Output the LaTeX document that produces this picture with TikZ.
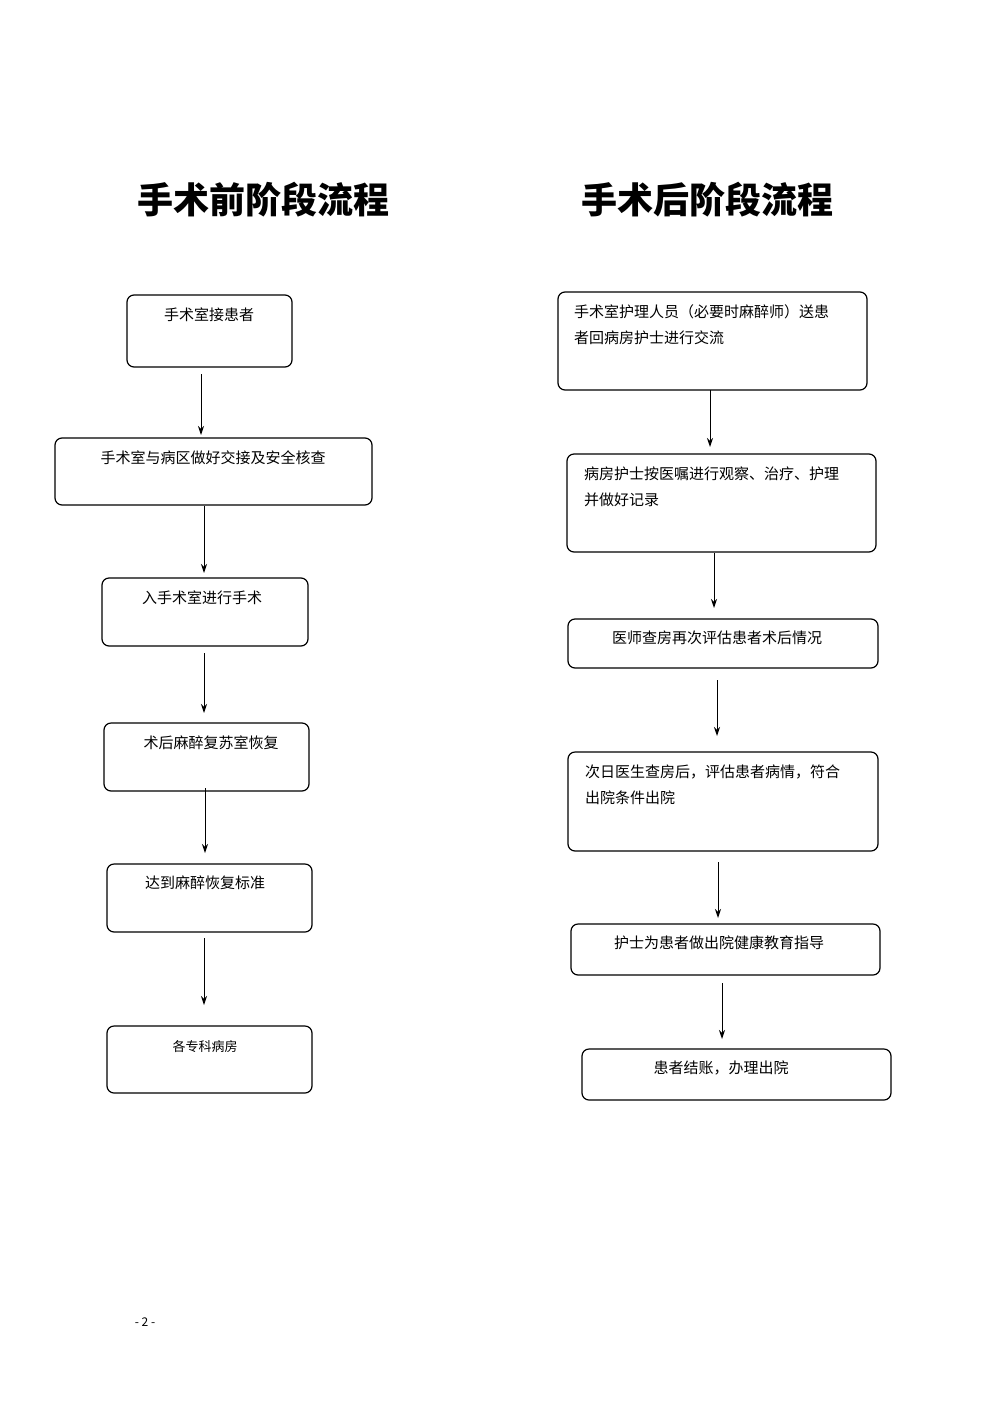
\documentclass[tikz,border=0pt]{standalone}
\usepackage{fontspec}
\newfontfamily\cjk{Noto Sans CJK SC}
\usetikzlibrary{arrows.meta}
\begin{document}
\begin{tikzpicture}[x=1pt,y=-1pt,
  box/.style={draw,line width=1.2pt,rounded corners=7pt},
  txt/.style={font=\cjk\fontsize{15}{26}\selectfont,inner sep=0pt,anchor=north},
  ltxt/.style={font=\cjk\fontsize{15}{26}\selectfont,inner sep=0pt,anchor=north west,align=left},
  arr/.style={-{Stealth[length=9pt,width=6pt]},line width=1pt},
  ttl/.style={font=\cjk\bfseries\fontsize{36}{40}\selectfont}]
\useasboundingbox (0,0) rectangle (1000,1414);
\node[ttl] (t1) at (263,200) {手术前阶段流程};
\node[ttl] (t2) at (707,200) {手术后阶段流程};
% left
\draw[box] (127,295) rectangle (292,367); \node[txt] (l1) at (209,308) {手术室接患者};
\draw[box] (55,438) rectangle (372,505); \node[txt] (l2) at (213,451) {手术室与病区做好交接及安全核查};
\draw[box] (102,578) rectangle (308,646); \node[txt] (l3) at (202,591) {入手术室进行手术};
\draw[box] (104,723) rectangle (309,791); \node[txt] (l4) at (211,736) {术后麻醉复苏室恢复};
\draw[box] (107,864) rectangle (312,932); \node[txt] (l5) at (205,876) {达到麻醉恢复标准};
\draw[box] (107,1026) rectangle (312,1093); \node[txt,font=\cjk\fontsize{13}{20}\selectfont] (l6) at (205,1040) {各专科病房};
\coordinate (a1) at (201,374); \coordinate (b1) at (201,435);
\coordinate (a2) at (204,506); \coordinate (b2) at (204,573);
\coordinate (a3) at (204,653); \coordinate (b3) at (204,713);
\coordinate (a4) at (205,788); \coordinate (b4) at (205,853);
\coordinate (a5) at (204,938); \coordinate (b5) at (204,1005);
\foreach \i in {1,...,5} \draw[arr] (a\i) -- (b\i);
% right
\draw[box] (558,292) rectangle (867,390); \node[ltxt] (r1) at (574,304) {手术室护理人员（必要时麻醉师）送患\\者回病房护士进行交流};
\draw[box] (567,454) rectangle (876,552); \node[ltxt] (r2) at (584,467) {病房护士按医嘱进行观察、治疗、护理\\并做好记录};
\draw[box] (568,619) rectangle (878,668); \node[txt] (r3) at (717,631) {医师查房再次评估患者术后情况};
\draw[box] (568,752) rectangle (878,851); \node[ltxt] (r4) at (585,765) {次日医生查房后，评估患者病情，符合\\出院条件出院};
\draw[box] (571,924) rectangle (880,975); \node[txt] (r5) at (719,936) {护士为患者做出院健康教育指导};
\draw[box] (582,1049) rectangle (891,1100); \node[txt] (r6) at (721,1061) {患者结账，办理出院};
\coordinate (c1) at (710,390); \coordinate (d1) at (710,447);
\coordinate (c2) at (714,553); \coordinate (d2) at (714,608);
\coordinate (c3) at (717,680); \coordinate (d3) at (717,736);
\coordinate (c4) at (718,862); \coordinate (d4) at (718,918);
\coordinate (c5) at (722,983); \coordinate (d5) at (722,1039);
\foreach \i in {1,...,5} \draw[arr] (c\i) -- (d\i);
\node[font=\cjk\fontsize{12}{14}\selectfont] (pg) at (145,1322) {- 2 -};
\end{tikzpicture}
\end{document}
